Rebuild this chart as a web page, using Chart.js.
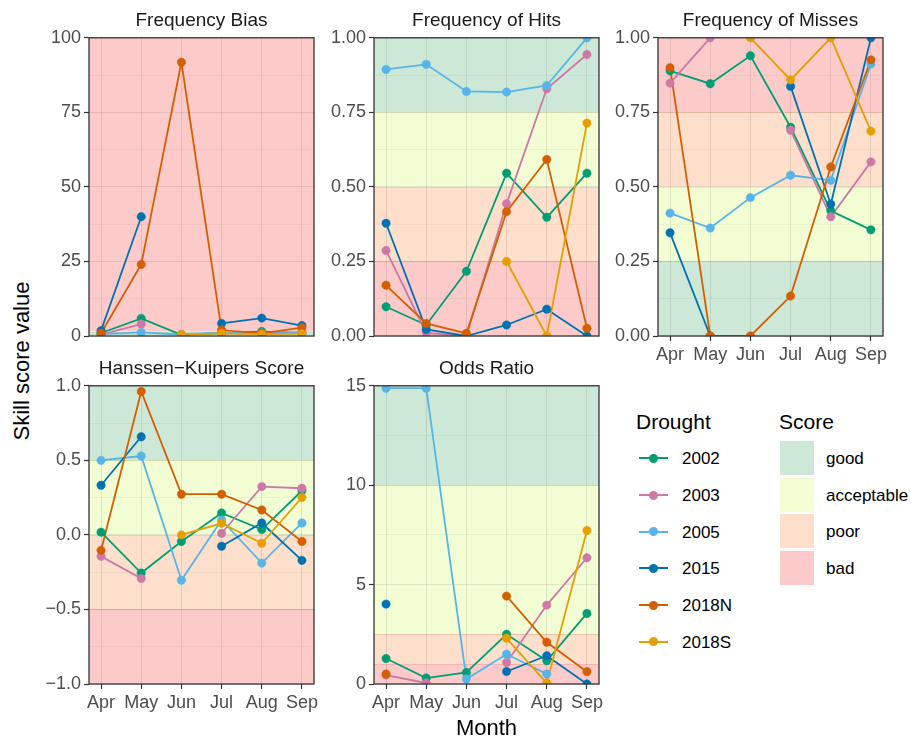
<!DOCTYPE html>
<html>
<head>
<meta charset="utf-8">
<script src="https://cdn.jsdelivr.net/npm/chart.js@4.4.1/dist/chart.umd.min.js"></script>
<style>
  body { margin: 0; background: #fff; }
  #wrap { position: relative; width: 911px; height: 743px; overflow: hidden; font-family: "Liberation Sans", Arial, sans-serif; }
  canvas { position: absolute; }
  .txt { position: absolute; white-space: nowrap; line-height: 1; }
</style>
</head>
<body>
<div id="wrap"></div>
<script>
const FONT = '"Liberation Sans", Arial, sans-serif';

const months = ['Apr', 'May', 'Jun', 'Jul', 'Aug', 'Sep'];
const droughts = ['2002', '2003', '2005', '2015', '2018N', '2018S'];
const droughtColors = ['#009E73', '#CC79A7', '#56B4E9', '#0072B2', '#D55E00', '#E69F00'];

// one row per drought (same order as droughts), one value per month
const biasValues = [
  [1.0, 5.9, 0.4, 1.0, 1.5, 1.0],
  [0.5, 4.0, null, 0.8, 1.0, 1.2],
  [0.6, 1.2, 0.5, 1.1, 0.9, 1.0],
  [1.8, 40.0, null, 4.2, 6.0, 3.5],
  [0.9, 24.0, 91.8, 2.0, 0.9, 2.8],
  [null, null, 0.5, 0.9, 0.6, 0.8]
];
const hitsValues = [
  [0.098, 0.037, 0.217, 0.546, 0.398, 0.546],
  [0.287, 0.01, 0.0, 0.444, 0.829, 0.944],
  [0.894, 0.911, 0.82, 0.818, 0.84, 1.0],
  [0.378, 0.022, 0.0, 0.037, 0.09, 0.0],
  [0.17, 0.042, 0.009, 0.417, 0.592, 0.026],
  [null, null, null, 0.25, 0.0, 0.714]
];
const missesValues = [
  [0.889, 0.846, 0.94, 0.70, 0.42, 0.356],
  [0.848, 1.0, null, 0.69, 0.40, 0.584],
  [0.412, 0.362, 0.464, 0.539, 0.522, 0.912],
  [0.346, 0.0, null, 0.837, 0.442, 1.0],
  [0.9, 0.0, 0.0, 0.134, 0.567, 0.926],
  [null, null, 1.0, 0.859, 1.0, 0.687]
];
const hkValues = [
  [0.018, -0.256, -0.044, 0.147, 0.036, 0.296],
  [-0.144, -0.293, null, 0.011, 0.324, 0.313],
  [0.5, 0.529, -0.304, 0.1, -0.189, 0.08],
  [0.333, 0.658, null, -0.076, 0.08, -0.171],
  [-0.104, 0.962, 0.273, 0.273, 0.167, -0.044],
  [null, null, 0.0, 0.078, -0.056, 0.251]
];
const oddsValues = [
  [1.28, 0.3, 0.58, 2.5, 1.17, 3.55],
  [0.45, 0.05, null, 1.08, 3.97, 6.35],
  [14.88, 14.88, 0.25, 1.5, 0.5, null],
  [4.02, null, null, 0.63, 1.42, 0.0],
  [0.5, null, null, 4.42, 2.1, 0.62],
  [null, null, null, 2.3, 0.05, 7.72]
];

const scoreNames = ['good', 'acceptable', 'poor', 'bad'];
const scoreFill = ['#cde8d6', '#f3fdd4', '#fddfcb', '#fdcaca'];
const scoreEdge = ['#bcdec6', '#e3efbe', '#f8caae', '#f4b4b4'];

// [from, to, score index]
const biasBands = [[0, 100, 3], [0, 1.5, 1], [0.8, 1.2, 0]];
const hitsBands = [[0.75, 1, 0], [0.5, 0.75, 1], [0.25, 0.5, 2], [0, 0.25, 3]];
const missesBands = [[0.75, 1, 3], [0.5, 0.75, 2], [0.25, 0.5, 1], [0, 0.25, 0]];
const hkBands = [[0.5, 1, 0], [0, 0.5, 1], [-0.5, 0, 2], [-1, -0.5, 3]];
const oddsBands = [[10, 15, 0], [2.5, 10, 1], [1, 2.5, 2], [0, 1, 3]];

const biasTicks = [0, 25, 50, 75, 100];
const biasLabels = ['0', '25', '50', '75', '100'];
const freqTicks = [0, 0.25, 0.5, 0.75, 1];
const freqLabels = ['0.00', '0.25', '0.50', '0.75', '1.00'];
const hkTicks = [-1, -0.5, 0, 0.5, 1];
const hkLabels = ['\u22121.0', '\u22120.5', '0.0', '0.5', '1.0'];
const oddsTicks = [0, 5, 10, 15];
const oddsLabels = ['0', '5', '10', '15'];

const panels = [
  { title: 'Frequency Bias', values: biasValues, bands: biasBands, ticks: biasTicks, labels: biasLabels, left: 89, top: 36, showX: false },
  { title: 'Frequency of Hits', values: hitsValues, bands: hitsBands, ticks: freqTicks, labels: freqLabels, left: 374, top: 36, showX: false },
  { title: 'Frequency of Misses', values: missesValues, bands: missesBands, ticks: freqTicks, labels: freqLabels, left: 658, top: 36, showX: true },
  { title: 'Hanssen\u2212Kuipers Score', values: hkValues, bands: hkBands, ticks: hkTicks, labels: hkLabels, left: 89, top: 384, showX: true },
  { title: 'Odds Ratio', values: oddsValues, bands: oddsBands, ticks: oddsTicks, labels: oddsLabels, left: 374, top: 384, showX: true }
];

const PLOT_W = 225, PLOT_H = 300;
const AXIS_W = 50, PAD_TOP = 12, PAD_RIGHT = 20, XAXIS_H = 30;
const gridMajor = 'rgba(0,0,0,0.085)';
const gridMinor = 'rgba(0,0,0,0.06)';

const wrap = document.getElementById('wrap');

function addText(str, x, y, size, color, anchor, rotate) {
  const d = document.createElement('div');
  d.className = 'txt';
  d.textContent = str;
  d.style.left = x + 'px';
  d.style.top = y + 'px';
  d.style.fontSize = size + 'px';
  d.style.color = color;
  let tf = anchor === 'left' ? 'translate(0,-50%)' : 'translate(-50%,-50%)';
  if (rotate) tf += ' rotate(' + rotate + 'deg)';
  d.style.transform = tf;
  wrap.appendChild(d);
  return d;
}

const bandPlugin = {
  id: 'bands',
  beforeDraw(chart, args, opts) {
    const { ctx, chartArea: a } = chart;
    const y = chart.scales.y;
    ctx.save();
    opts.bands.forEach(([lo, hi, s]) => {
      const yt = y.getPixelForValue(hi), yb = y.getPixelForValue(lo);
      ctx.fillStyle = scoreFill[s];
      ctx.fillRect(a.left, yt, a.right - a.left, yb - yt);
    });
    ctx.lineWidth = 1;
    opts.bands.forEach(([lo, hi, s]) => {
      ctx.strokeStyle = scoreEdge[s];
      [lo, hi].forEach(v => {
        if (v <= y.min || v >= y.max) return;
        const py = Math.round(y.getPixelForValue(v)) + 0.5;
        ctx.beginPath();
        ctx.moveTo(a.left, py);
        ctx.lineTo(a.right, py);
        ctx.stroke();
      });
    });
    ctx.restore();
  }
};

const borderPlugin = {
  id: 'panelBorder',
  afterDraw(chart) {
    const { ctx, chartArea: a } = chart;
    ctx.save();
    ctx.strokeStyle = '#333333';
    ctx.lineWidth = 1.3;
    ctx.strokeRect(a.left, a.top, a.right - a.left, a.bottom - a.top);
    ctx.restore();
  }
};

panels.forEach(p => {
  const canvas = document.createElement('canvas');
  const cw = AXIS_W + PLOT_W + PAD_RIGHT, ch = PAD_TOP + PLOT_H + XAXIS_H;
  canvas.width = cw;
  canvas.height = ch;
  canvas.style.left = (p.left - AXIS_W) + 'px';
  canvas.style.top = (p.top - PAD_TOP) + 'px';
  canvas.style.width = cw + 'px';
  canvas.style.height = ch + 'px';
  wrap.appendChild(canvas);

  const minorTicks = p.ticks.slice(1).map((v, k) => (v + p.ticks[k]) / 2);
  const allTicks = p.ticks.concat(minorTicks).sort((a, b) => a - b);

  const toXY = vals => vals.map((v, k) => ({ x: k, y: v }));
  const lineSets = droughts.map((d, i) => ({
    label: d, data: toXY(p.values[i]),
    borderColor: droughtColors[i], backgroundColor: droughtColors[i],
    borderWidth: 1.8, pointRadius: 0, tension: 0, spanGaps: false,
    order: 20 - i, clip: 0
  }));
  const pointSets = droughts.map((d, i) => ({
    label: d, data: toXY(p.values[i]), showLine: false,
    pointRadius: 4.2, pointBorderWidth: 0.5,
    pointBackgroundColor: droughtColors[i], pointBorderColor: droughtColors[i],
    order: 10 - i, clip: 0
  }));

  new Chart(canvas, {
    type: 'line',
    data: { datasets: lineSets.concat(pointSets) },
    plugins: [bandPlugin, borderPlugin],
    options: {
      responsive: false,
      animation: false,
      events: [],
      layout: { padding: { top: PAD_TOP, right: PAD_RIGHT, left: 0, bottom: 0 } },
      plugins: {
        legend: { display: false },
        tooltip: { enabled: false },
        bands: { bands: p.bands }
      },
      scales: {
        x: {
          type: 'linear', min: -0.3, max: 5.3, bounds: 'data',
          afterBuildTicks: s => { s.ticks = months.map((m, k) => ({ value: k })); },
          afterFit: s => { s.height = XAXIS_H; },
          ticks: {
            display: p.showX, autoSkip: false, maxRotation: 0, padding: 3,
            color: '#4d4d4d', font: { family: FONT, size: 18 },
            callback: v => months[v]
          },
          grid: { color: gridMajor, lineWidth: 1, drawTicks: p.showX, tickLength: 5, tickColor: '#333333', tickWidth: 1.2 },
          border: { display: false }
        },
        y: {
          type: 'linear', min: p.ticks[0], max: p.ticks[p.ticks.length - 1], bounds: 'data',
          afterBuildTicks: s => { s.ticks = allTicks.map(v => ({ value: v, minor: p.ticks.indexOf(v) < 0 })); },
          afterFit: s => { s.width = AXIS_W; },
          ticks: {
            autoSkip: false, padding: 3, color: '#4d4d4d', font: { family: FONT, size: 18 },
            callback: v => { const k = p.ticks.indexOf(v); return k < 0 ? '' : p.labels[k]; }
          },
          grid: {
            color: c => (c.tick && c.tick.minor) ? gridMinor : gridMajor,
            lineWidth: c => (c.tick && c.tick.minor) ? 0.7 : 1,
            tickLength: 5, tickWidth: 1.2,
            tickColor: c => (c.tick && c.tick.minor) ? 'rgba(0,0,0,0)' : '#333333'
          },
          border: { display: false }
        }
      }
    }
  });

  addText(p.title, p.left + PLOT_W / 2, p.top - 17.5, 19, '#1a1a1a', 'center');
});

// axis titles
addText('Skill score value', 22, 360.5, 22, '#000', 'center', -90);
addText('Month', 486.5, 727.5, 22, '#000', 'center');

// legend: Drought
addText('Drought', 636, 420.5, 21, '#000', 'left');
droughts.forEach((d, i) => {
  const cy = 458.3 + i * 36.7;
  const ln = document.createElement('div');
  ln.style.cssText = 'position:absolute;left:639px;width:29px;height:2px;background:' + droughtColors[i] + ';top:' + (cy - 1) + 'px';
  wrap.appendChild(ln);
  const dot = document.createElement('div');
  dot.style.cssText = 'position:absolute;width:9px;height:9px;border-radius:50%;background:' + droughtColors[i] + ';left:' + (653.5 - 4.5) + 'px;top:' + (cy - 4.5) + 'px';
  wrap.appendChild(dot);
  addText(d, 682, cy, 17, '#000', 'left');
});

// legend: Score
addText('Score', 779, 420.5, 21, '#000', 'left');
scoreNames.forEach((s, i) => {
  const top = 441 + i * 36.7;
  const box = document.createElement('div');
  box.style.cssText = 'position:absolute;left:780px;width:34px;height:34px;background:' + scoreFill[i] + ';top:' + top + 'px';
  wrap.appendChild(box);
  addText(s, 826, top + 17, 17, '#000', 'left');
});
</script>
</body>
</html>
